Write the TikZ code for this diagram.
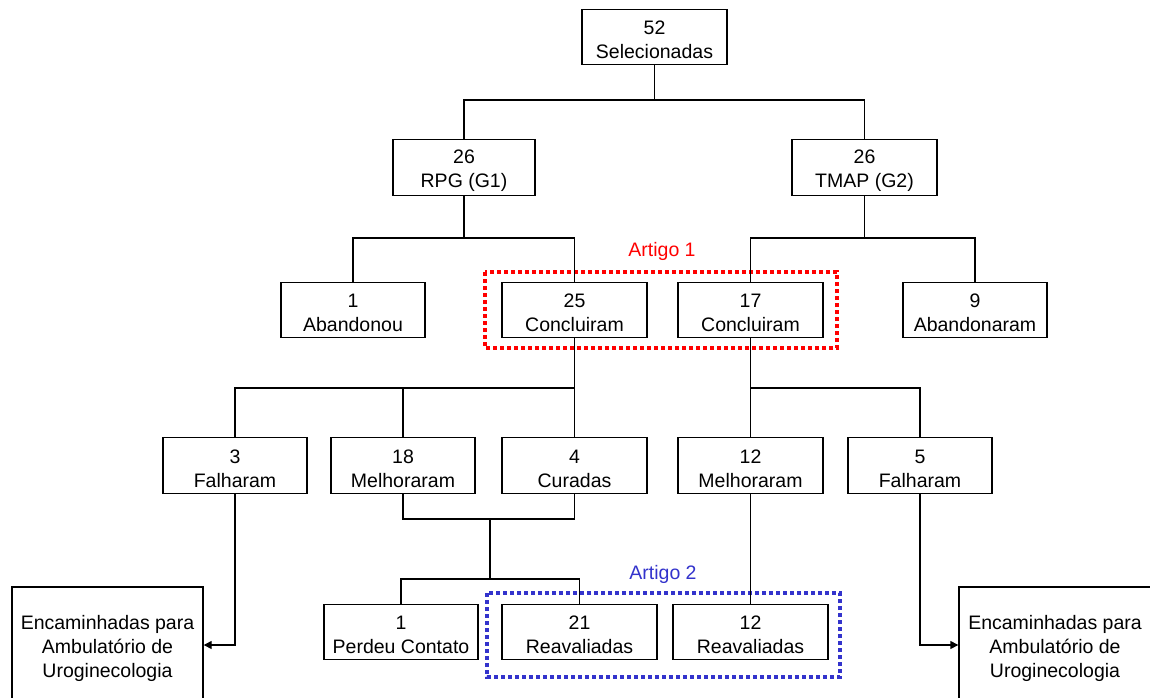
\documentclass[tikz,border=0pt]{standalone}
\usepackage{fontspec}
\setmainfont{Liberation Sans}
\usetikzlibrary{arrows.meta}
\definecolor{artred}{RGB}{255,0,0}
\definecolor{artblue}{RGB}{51,51,204}
\begin{document}
\begin{tikzpicture}[x=1pt,y=-1pt,
  box/.style={draw=black,line width=1.4pt,fill=white,inner sep=0pt,align=center,
    font=\fontsize{19.5}{24}\selectfont,minimum height=55.5pt,text height=44pt},
  conn/.style={draw=black,line width=1.4pt},
  arr/.style={conn,-{Triangle[length=8pt,width=8pt]}},
  dotbox/.style={line width=4pt,dash pattern=on 4pt off 3pt},
  artlabel/.style={font=\fontsize{19.5}{24}\selectfont,inner sep=0pt}]
\useasboundingbox (0,0) rectangle (1150,698);
\clip (0,0) rectangle (1150,698);
\fill[white] (0,0) rectangle (1150,698);

% dotted frames
\draw[dotbox,artred] (485,272) rectangle (837,348);
\draw[dotbox,artblue] (487,593) rectangle (840,677);
\node[artlabel,text=artred] (a1) at (662,251) {Artigo 1};
\node[artlabel,text=artblue] (a2) at (663,574) {Artigo 2};

% nodes
\node[box,minimum width=145pt] (n52) at (654.5,37) {52\\Selecionadas};
\node[box,minimum width=142pt] (g1) at (464,167.5) {26\\RPG (G1)};
\node[box,minimum width=145pt] (g2) at (864.5,167.5) {26\\TMAP (G2)};
\node[box,minimum width=144pt] (ab1) at (353,310) {1\\Abandonou};
\node[box,minimum width=145pt] (c25) at (574.5,310) {25\\Concluiram};
\node[box,minimum width=145pt] (c17) at (750.5,310) {17\\Concluiram};
\node[box,minimum width=144pt] (ab9) at (975,310) {9\\Abandonaram};
\node[box,minimum width=144pt] (f3) at (235,465.5) {3\\Falharam};
\node[box,minimum width=144pt] (m18) at (403,465.5) {18\\Melhoraram};
\node[box,minimum width=145pt] (cur4) at (574.5,465.5) {4\\Curadas};
\node[box,minimum width=145pt] (m12) at (750.5,465.5) {12\\Melhoraram};
\node[box,minimum width=144pt] (f5) at (920,465.5) {5\\Falharam};
\node[box,minimum width=154pt] (pc) at (401,632) {1\\Perdeu Contato};
\node[box,minimum width=155pt] (r21) at (579.5,632) {21\\Reavaliadas};
\node[box,minimum width=155pt] (r12) at (750.5,632) {12\\Reavaliadas};
\node[box,minimum width=191pt,minimum height=118pt,text height=68pt] (encL) at (107.5,646) {Encaminhadas para\\Ambulatório de\\Uroginecologia};
\node[box,minimum width=192pt,minimum height=118pt,text height=68pt] (encR) at (1055,646) {Encaminhadas para\\Ambulatório de\\Uroginecologia};

% connectors
\draw[conn] (n52.south) -- (n52.south |- 0,100);
\draw[conn] (g1.north) -- (g1.north |- 0,100) -- (g2.north |- 0,100) -- (g2.north);

\draw[conn] (g1.south) -- (g1.south |- 0,238);
\draw[conn] (ab1.north) -- (ab1.north |- 0,238) -- (c25.north |- 0,238) -- (c25.north);
\draw[conn] (g2.south) -- (g2.south |- 0,238);
\draw[conn] (c17.north) -- (c17.north |- 0,238) -- (ab9.north |- 0,238) -- (ab9.north);

\draw[conn] (c25.south) -- (cur4.north);
\draw[conn] (f3.north) -- (f3.north |- 0,388) -- (cur4.north |- 0,388);
\draw[conn] (m18.north) -- (m18.north |- 0,388);
\draw[conn] (c17.south) -- (m12.north);
\draw[conn] (c17.south |- 0,388) -- (f5.north |- 0,388) -- (f5.north);

\draw[conn] (m18.south) -- (m18.south |- 0,519) -- (cur4.south |- 0,519) -- (cur4.south);
\coordinate (jmid) at (490,519);
\coordinate (jlow) at (490,579);
\draw[conn] (jmid) -- (jlow);
\draw[conn] (pc.north) -- (pc.north |- jlow) -- (r21.north |- jlow) -- (r21.north);
\draw[conn] (m12.south) -- (r12.north);

\draw[arr] (f3.south) |- (encL.east |- 0,645);
\draw[arr] (f5.south) |- (encR.west |- 0,645);
\end{tikzpicture}
\end{document}
